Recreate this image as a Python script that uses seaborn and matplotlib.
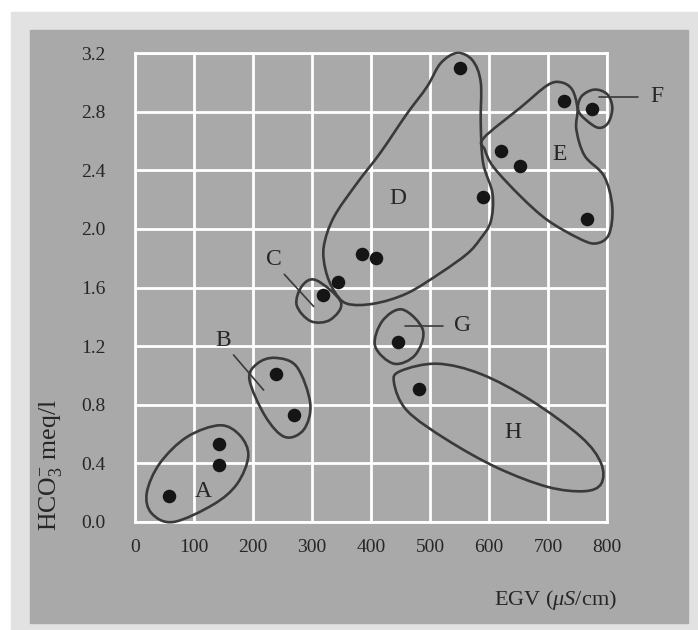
#!/usr/bin/env python3
"""
HCO3- against conductivity (EGV), with the sample groups A-H outlined
"""

import matplotlib.pyplot as plt
import numpy as np
import pandas as pd
import seaborn as sns
from matplotlib.patches import PathPatch, Rectangle
from matplotlib.path import Path

# Samples: conductivity (uS/cm) and bicarbonate (meq/l)
egv = [58, 142, 143, 239, 269, 318, 344, 385, 409, 550,
       590, 621, 653, 727, 766, 774, 446, 482]
hco3 = [0.18, 0.53, 0.39, 1.01, 0.73, 1.55, 1.64, 1.83, 1.80, 3.10,
        2.22, 2.53, 2.43, 2.87, 2.07, 2.82, 1.23, 0.91]

x_ticks = [0, 100, 200, 300, 400, 500, 600, 700, 800]
y_ticks = [0.0, 0.4, 0.8, 1.2, 1.6, 2.0, 2.4, 2.8, 3.2]

# Hand-drawn group outlines (EGV, HCO3)
outline_a = [(144, 0.66), (178, 0.59), (192, 0.45), (173, 0.26), (133, 0.12),
             (65, 0.00), (28, 0.06), (20, 0.20), (42, 0.40), (88, 0.58)]
outline_b = [(237, 1.12), (274, 1.06), (297, 0.81), (286, 0.63), (254, 0.58),
             (221, 0.72), (194, 0.97), (207, 1.08)]
outline_c = [(307, 1.65), (349, 1.50), (331, 1.38), (298, 1.37), (274, 1.48),
             (283, 1.61)]
outline_d = [(546, 3.20), (572, 3.15), (586, 3.00), (586, 2.72), (590, 2.45),
             (606, 2.24), (603, 2.05), (585, 1.93), (563, 1.83), (518, 1.70),
             (461, 1.56), (405, 1.49), (359, 1.49), (337, 1.58), (323, 1.72),
             (320, 1.88), (337, 2.08), (376, 2.31), (416, 2.52), (460, 2.78),
             (495, 2.97), (518, 3.13)]
outline_e = [(591, 2.62), (654, 2.83), (699, 2.98), (722, 3.00), (741, 2.95),
             (750, 2.82), (748, 2.68), (762, 2.50), (795, 2.36), (809, 2.15),
             (803, 1.96), (780, 1.90), (750, 1.94), (699, 2.06), (654, 2.22),
             (608, 2.42), (593, 2.54)]
outline_f = [(778, 2.95), (800, 2.92), (809, 2.83), (803, 2.73), (790, 2.69),
             (775, 2.71), (752, 2.80), (756, 2.90)]
outline_g = [(453, 1.45), (488, 1.31), (475, 1.14), (439, 1.08), (407, 1.20),
             (419, 1.37)]
outline_h = [(450, 1.03), (512, 1.08), (586, 1.01), (671, 0.83), (756, 0.58),
             (790, 0.40), (790, 0.26), (761, 0.21), (699, 0.24), (614, 0.37),
             (529, 0.56), (461, 0.76), (439, 0.95)]
outlines = [outline_a, outline_b, outline_c, outline_d,
            outline_e, outline_f, outline_g, outline_h]

# Group letters and where they sit
group_names = ['A', 'B', 'C', 'D', 'E', 'F', 'G', 'H']
label_x = [115, 150, 236, 445, 720, 884, 556, 640]
label_y = [0.21, 1.24, 1.79, 2.21, 2.51, 2.90, 1.34, 0.61]

# Leader lines from letter to group: (x0, x1, y0, y1)
leaders = [
    (167, 218, 1.14, 0.90),   # B
    (253, 303, 1.69, 1.47),   # C
    (787, 853, 2.90, 2.90),   # F
    (457, 522, 1.34, 1.34),   # G
]

PANEL = '#a9a9a9'
FRAME = '#e2e2e2'
LINE = '#3a3a3a'
TEXT = '#262626'


def closed_curve(points):
    # smooth closed outline through the points (Catmull-Rom as cubic Beziers)
    p = np.asarray(points, dtype=float)
    n = len(p)
    verts = [p[0]]
    codes = [Path.MOVETO]
    for i in range(n):
        p0, p1, p2, p3 = p[i - 1], p[i], p[(i + 1) % n], p[(i + 2) % n]
        verts += [p1 + (p2 - p0) / 6, p2 - (p3 - p1) / 6, p2]
        codes += [Path.CURVE4] * 3
    return Path(verts, codes)


def main():
    sns.set_theme(style='darkgrid', rc={
        'axes.facecolor': PANEL,
        'grid.color': 'white',
        'grid.linewidth': 2.0,
    })
    plt.rcParams['font.family'] = ['Liberation Serif', 'DejaVu Serif']
    plt.rcParams['mathtext.fontset'] = 'custom'
    plt.rcParams['mathtext.rm'] = 'Liberation Serif'
    plt.rcParams['mathtext.it'] = 'Liberation Serif:italic'

    fig = plt.figure(figsize=(6.98, 6.30), dpi=100, facecolor='white')
    fig.patches.append(Rectangle((11 / 698, 0), 687 / 698, 618 / 630,
                                 transform=fig.transFigure, color=FRAME, zorder=-3))
    fig.patches.append(Rectangle((30 / 698, 7 / 630), 658 / 698, 593 / 630,
                                 transform=fig.transFigure, color=PANEL, zorder=-2))

    ax = fig.add_axes([135 / 698, 108 / 630, 472 / 698, 469 / 630])

    df = pd.DataFrame({'EGV': egv, 'HCO3': hco3})
    sns.scatterplot(data=df, x='EGV', y='HCO3', ax=ax, color='#151515',
                    s=95, linewidth=0, zorder=4, clip_on=False)

    for pts in outlines:
        ax.add_patch(PathPatch(closed_curve(pts), facecolor='none', edgecolor=LINE,
                               linewidth=1.9, zorder=3, clip_on=False))

    for x0, x1, y0, y1 in leaders:
        ax.plot([x0, x1], [y0, y1], color=LINE, linewidth=1.2, zorder=3,
                clip_on=False)

    for name, lx, ly in zip(group_names, label_x, label_y):
        ax.text(lx, ly, name, fontsize=17, color=TEXT,
                ha='center', va='center', zorder=5, clip_on=False)

    ax.set_xlim(0, 800)
    ax.set_ylim(0, 3.2)
    ax.set_xticks(x_ticks)
    ax.set_yticks(y_ticks)
    ax.set_xticklabels([str(t) for t in x_ticks])
    ax.set_yticklabels([f'{t:.1f}' for t in y_ticks])
    ax.tick_params(length=0, labelsize=14, colors=TEXT)
    ax.tick_params(axis='x', pad=12)
    ax.tick_params(axis='y', pad=21)
    for spine in ax.spines.values():
        spine.set_visible(True)
        spine.set_color('white')
        spine.set_linewidth(2.0)

    ax.set_xlabel(r'EGV ($\mathit{\mu S}$/cm)', fontsize=16, color=TEXT,
                  loc='right')
    ax.xaxis.set_label_coords(1.02, -0.14)
    ax.set_ylabel(r'HCO$_3^{-}$ meq/l', fontsize=18.5, color=TEXT,
                  loc='bottom')
    ax.yaxis.set_label_coords(-0.15, -0.02)

    fig.savefig('out.png', dpi=100, facecolor='white')
    plt.close(fig)


if __name__ == '__main__':
    main()
